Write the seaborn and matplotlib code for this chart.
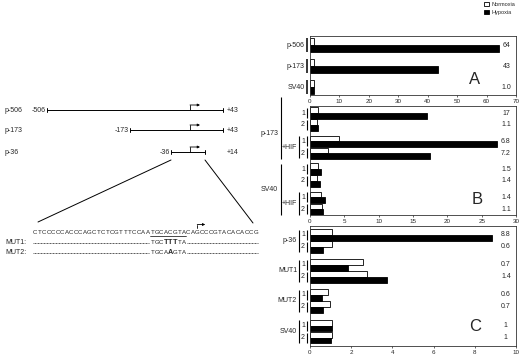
import matplotlib
matplotlib.use("Agg")
import matplotlib.pyplot as plt
import matplotlib.transforms as mtrans
from matplotlib.patches import Patch
import numpy as np
import pandas as pd
import seaborn as sns

sns.set_theme(style="ticks")
plt.rcParams['font.family'] = ['Liberation Sans', 'DejaVu Sans']

# ---- data ----
# panel A
a_groups = ['p-506', 'p-173', 'SV40']
a_normoxia = [1.3, 1.3, 1.2]
a_hypoxia = [64.3, 43.5, 1.2]
a_fold = ['64', '43', '1.0']

# panel B
b_rows = ['1', '2', '1', '2', '1', '2', '1', '2']
b_normoxia = [1.1, 1.05, 4.2, 2.6, 1.1, 1.05, 1.6, 1.75]
b_hypoxia = [17.0, 1.1, 27.3, 17.5, 1.6, 1.45, 2.2, 1.9]
b_fold = ['17', '1.1', '6.8', '7.2', '1.5', '1.4', '1.4', '1.1']
b_groups = ['p-173', 'SV40']
b_sub = '+HIF'

# panel C
c_rows = ['1', '2'] * 4
c_groups = ['p-36', 'MUT1', 'MUT2', 'SV40']
c_normoxia = [1.05, 1.05, 2.55, 2.75, 0.85, 0.95, 1.05, 1.05]
c_hypoxia = [8.85, 0.65, 1.85, 3.75, 0.57, 0.65, 1.05, 1.0]
c_fold = ['8.8', '0.6', '0.7', '1.4', '0.6', '0.7', '1', '1']

# promoter constructs
constructs = ['p-506', 'p-173', 'p-36']
construct_start = [-506, -173, -36]
construct_end = [43, 43, 14]
seq_left = 'CTCCCCCACCCAGCTCTCGTTTCCAA'
hre_wt = 'TGCACGTA'
seq_right = 'CAGCCCGTACACACCG'
mutants = ['MUT1:', 'MUT2:']
mut_hre = ['TGCTTTTA', 'TGCAAGTA']

# ---- layout ----
W, H = 520, 357
b_pos = [0, 1, 2.4, 3.4, 4.75, 5.75, 7.15, 8.15]
c_pos = [0, 1, 2.5, 3.5, 5, 6, 7.55, 8.55]

fig = plt.figure(figsize=(5.2, 3.57), dpi=100)

# schematic on the left, drawn in pixel-like coordinates
ax_d = fig.add_axes([0, 0, 1, 1])
ax_d.set_xlim(0, W)
ax_d.set_ylim(H, 0)
ax_d.axis('off')

bp_anchor = [-506, -173, -36, 0, 14, 43]
px_anchor = [47, 130, 171, 190, 205, 223]
row_y = [110, 130, 152]
lw = 0.7
for name, s, e, y in zip(constructs, construct_start, construct_end, row_y):
    x0, x1 = np.interp([s, e], bp_anchor, px_anchor)
    xt = np.interp(0, bp_anchor, px_anchor)
    ax_d.plot([x0, x1], [y, y], color='black', lw=lw)
    ax_d.plot([x0, x0], [y - 2.2, y + 2.2], color='black', lw=lw)
    ax_d.plot([x1, x1], [y - 2.2, y + 2.2], color='black', lw=lw)
    ax_d.plot([xt, xt], [y, y - 5], color='black', lw=0.6)
    ax_d.annotate('', xy=(xt + 10, y - 5), xytext=(xt, y - 5),
                  arrowprops=dict(arrowstyle='-|>', lw=0.6, color='black',
                                  shrinkA=0, shrinkB=0, mutation_scale=3.5))
    ax_d.text(5, y, name, fontsize=5, va='center', ha='left')
    ax_d.text(x0 - 1, y, str(s), fontsize=5, va='center', ha='right')
    ax_d.text(227, y + 0.5, '+%d' % e, fontsize=5, va='center', ha='left')

# zoom lines towards the sequence
x36, x14 = np.interp([construct_start[2], construct_end[2]], bp_anchor, px_anchor)
ax_d.plot([x36, 38], [160, 222], color='black', lw=0.7)
ax_d.plot([x14, 253], [160, 223], color='black', lw=0.7)

# sequence, one character per slot
seq = seq_left + hre_wt + seq_right
cw = 4.5
sx0 = 33
seq_y = 233
hre_i = len(seq_left)
for i, ch in enumerate(seq):
    ax_d.text(sx0 + (i + 0.5) * cw, seq_y, ch, fontsize=4.4, ha='center', va='center')
ux0 = sx0 + hre_i * cw
ux1 = sx0 + (hre_i + len(hre_wt)) * cw
ax_d.plot([ux0, ux1], [seq_y + 3.3, seq_y + 3.3], color='black', lw=0.5)
tss_x = sx0 + 36.5 * cw
ax_d.plot([tss_x, tss_x], [seq_y - 5, seq_y - 8.5], color='black', lw=0.6)
ax_d.annotate('', xy=(tss_x + 8, seq_y - 8.5), xytext=(tss_x, seq_y - 8.5),
              arrowprops=dict(arrowstyle='-|>', lw=0.6, color='black',
                              shrinkA=0, shrinkB=0, mutation_scale=3.5))

mut_y = [243, 253]
for name, mh, y in zip(mutants, mut_hre, mut_y):
    ax_d.text(5, y, name, fontsize=5, va='center', ha='left')
    ax_d.plot([sx0, ux0 - 1], [y, y], color='black', lw=0.45, ls=(0, (1.6, 0.8)))
    ax_d.plot([ux1 + 1, sx0 + len(seq) * cw], [y, y], color='black', lw=0.45, ls=(0, (1.6, 0.8)))
    for j, ch in enumerate(mh):
        bold = ch != hre_wt[j]
        ax_d.text(sx0 + (hre_i + j + 0.5) * cw, y, ch, fontsize=5.2 if bold else 4.4,
                  fontweight='bold' if bold else 'normal', ha='center', va='center')


def bar_panel(rect, pos, normoxia, hypoxia, width):
    ax = fig.add_axes(rect)
    n = len(pos)
    df = pd.DataFrame({'pos': list(pos) * 2,
                       'value': list(normoxia) + list(hypoxia),
                       'cond': ['Normoxia'] * n + ['Hypoxia'] * n})
    sns.barplot(data=df, x='value', y='pos', hue='cond',
                hue_order=['Normoxia', 'Hypoxia'],
                palette={'Normoxia': 'white', 'Hypoxia': 'black'},
                orient='y', native_scale=True, width=width, errorbar=None,
                edgecolor='black', linewidth=0.6, legend=False, ax=ax)
    ax.set_xlabel('')
    ax.set_ylabel('')
    ax.set_yticks([])
    ax.tick_params(axis='x', labelsize=4.5, length=1.5, width=0.5, pad=1.2)
    for s in ax.spines.values():
        s.set_linewidth(0.6)
        s.set_color('#333333')
    return ax


def vline(ax, xf, y0, y1, lw=0.8):
    tr = mtrans.blended_transform_factory(ax.transAxes, ax.transData)
    ax.plot([xf, xf], [y0, y1], transform=tr, color='black', lw=lw,
            clip_on=False, solid_capstyle='butt')


def label(ax, xf, y, s, ha='right', size=5):
    tr = mtrans.blended_transform_factory(ax.transAxes, ax.transData)
    ax.text(xf, y, s, transform=tr, ha=ha, va='center', fontsize=size, clip_on=False)


left, wid = 310 / W, 206 / W

# ---- panel A ----
a_pos = list(range(len(a_groups)))
axA = bar_panel([left, 1 - 95 / H, wid, 59 / H], a_pos, a_normoxia, a_hypoxia, 0.64)
for p, g, f in zip(a_pos, a_groups, a_fold):
    vline(axA, -0.013, p - 0.34, p + 0.34, lw=1.1)
    label(axA, -0.026, p, g)
    label(axA, 0.955, p, f, ha='center')
axA.set_xlim(0, 70)
axA.set_xticks(range(0, 71, 10))
axA.set_ylim(2.38, -0.43)
axA.text(0.80, 0.26, 'A', transform=axA.transAxes, fontsize=12, ha='center', va='center')

# ---- panel B ----
axB = bar_panel([left, 1 - 215 / H, wid, 109 / H], b_pos, b_normoxia, b_hypoxia, 0.96)
for p, r, f in zip(b_pos, b_rows, b_fold):
    vline(axB, -0.014, p - 0.42, p + 0.42)
    label(axB, -0.034, p, r, ha='center')
    label(axB, 0.951, p, f, ha='center')
for k, g in enumerate(b_groups):
    rows = b_pos[4 * k:4 * k + 4]
    top = rows[0] - 0.42 if k else rows[0] - 1.35
    vline(axB, -0.14, top, rows[3] + 0.5)
    label(axB, -0.155, (rows[0] + rows[3]) / 2, g)
    vline(axB, -0.053, rows[2] - 0.45, rows[3] + 0.45)
    label(axB, -0.063, (rows[2] + rows[3]) / 2, b_sub)
axB.set_xlim(0, 30)
axB.set_xticks(range(0, 31, 5))
axB.set_ylim(8.64, -0.6)
axB.text(0.81, 0.14, 'B', transform=axB.transAxes, fontsize=12, ha='center', va='center')

# ---- panel C ----
axC = bar_panel([left, 1 - 346 / H, wid, 120 / H], c_pos, c_normoxia, c_hypoxia, 0.98)
for p, r, f in zip(c_pos, c_rows, c_fold):
    vline(axC, -0.014, p - 0.42, p + 0.42)
    label(axC, -0.034, p, r, ha='center')
    label(axC, 0.951, p, f, ha='center')
for k, g in enumerate(c_groups):
    r0, r1 = c_pos[2 * k], c_pos[2 * k + 1]
    vline(axC, -0.053, r0 - 0.45, r1 + 0.45)
    label(axC, -0.063, (r0 + r1) / 2, g)
axC.set_xlim(0, 10)
axC.set_xticks(range(0, 11, 2))
axC.set_ylim(9.25, -0.75)
axC.text(0.80, 0.16, 'C', transform=axC.transAxes, fontsize=12, ha='center', va='center')

# legend
handles = [Patch(facecolor='white', edgecolor='black', linewidth=0.6),
           Patch(facecolor='black', edgecolor='black', linewidth=0.6)]
fig.legend(handles, ['Normoxia', 'Hypoxia'], loc='upper left',
           bbox_to_anchor=(484 / W, 1 - 1.5 / H), frameon=False, fontsize=4,
           handlelength=0.9, handleheight=0.9, handletextpad=0.4,
           labelspacing=0.5, borderpad=0, borderaxespad=0)

fig.savefig('out.png', dpi=100)
